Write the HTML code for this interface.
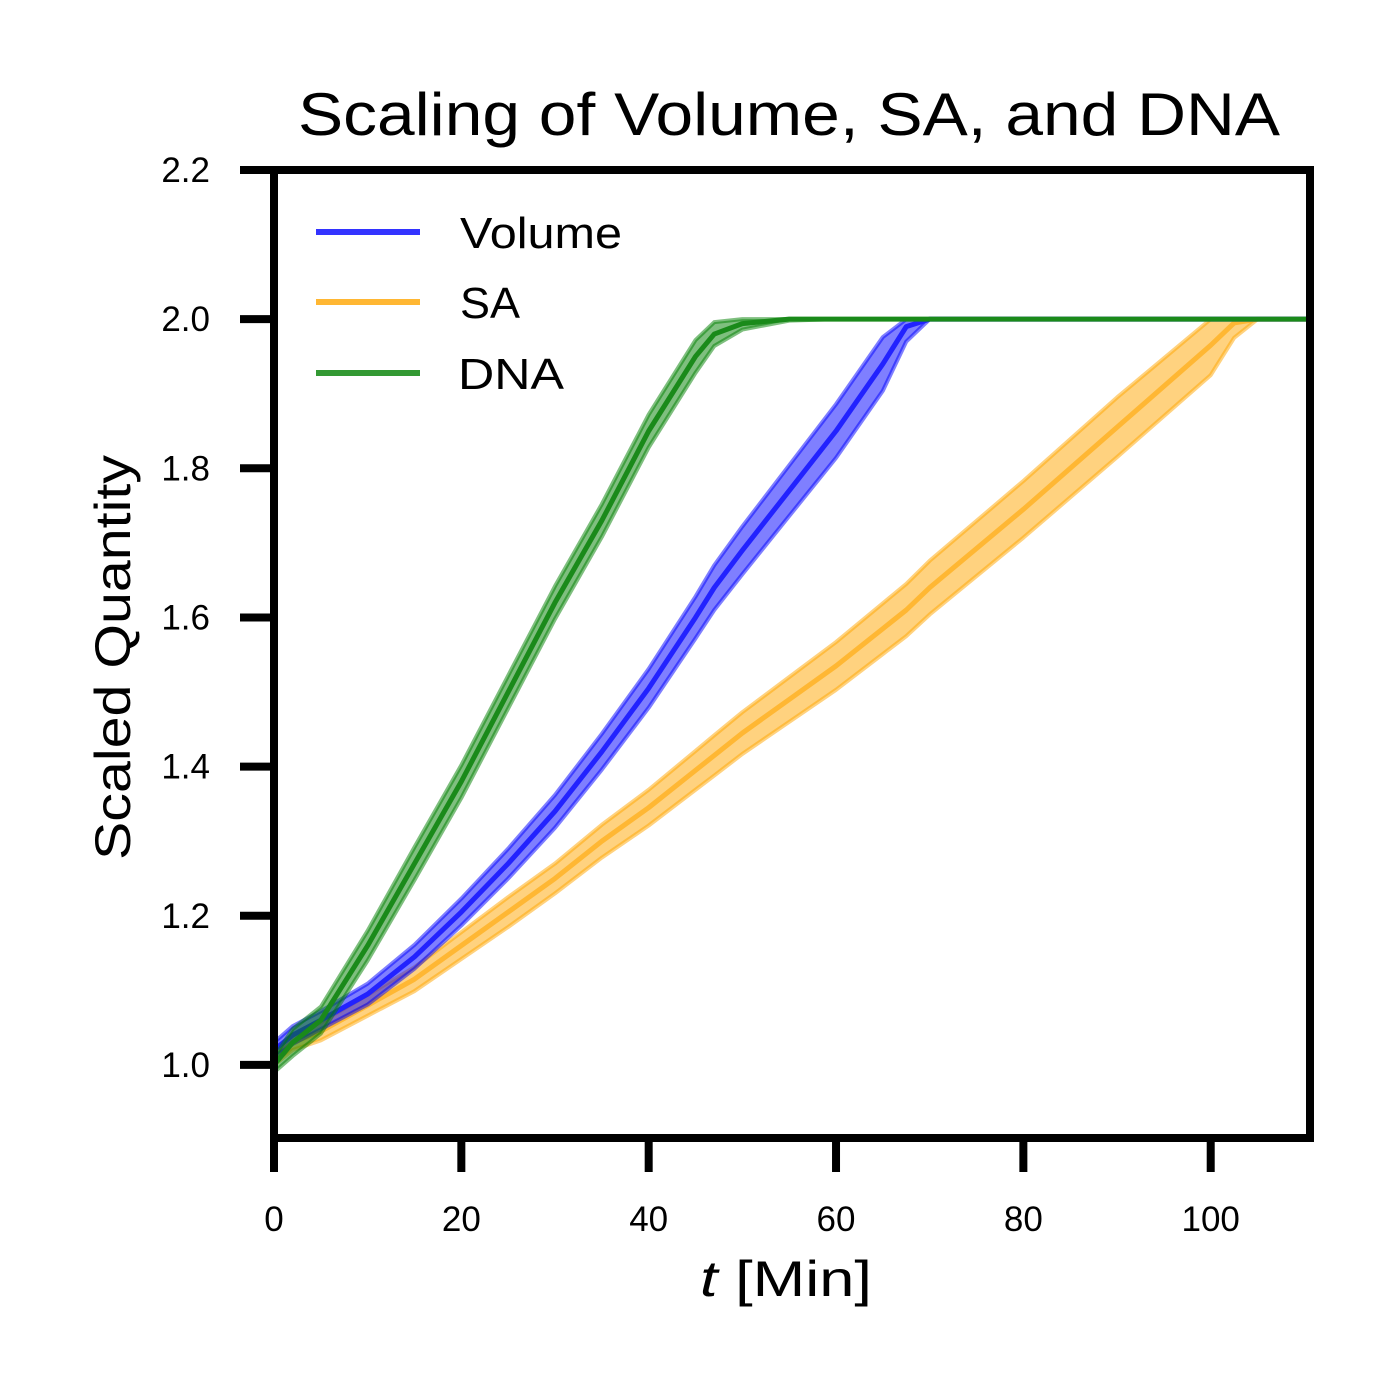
<!DOCTYPE html>
<html><head><meta charset="utf-8">
<style>
html,body{margin:0;padding:0;background:#fff;}
svg{display:block;font-family:"Liberation Sans","DejaVu Sans",sans-serif;}
</style></head>
<body>
<svg id="chart" width="1400" height="1400" viewBox="0 0 1400 1400">
  <text x="298" y="135" font-size="60" textLength="982" lengthAdjust="spacingAndGlyphs">Scaling of Volume, SA, and DNA</text>
  <g id="plot"></g>
  <g id="axes"></g>
  <text x="700" y="1296" font-size="50" textLength="172" lengthAdjust="spacingAndGlyphs"><tspan font-style="italic">t</tspan> [Min]</text>
  <text transform="translate(130,860) rotate(-90)" font-size="50" textLength="405" lengthAdjust="spacingAndGlyphs">Scaled Quantity</text>
  <g>
    <line x1="316" y1="232" x2="420" y2="232" stroke="#3333ff" stroke-width="6"/>
    <text x="460" y="248" font-size="44" textLength="162" lengthAdjust="spacingAndGlyphs">Volume</text>
    <line x1="316" y1="302" x2="420" y2="302" stroke="#ffb733" stroke-width="6"/>
    <text x="460" y="318" font-size="44" textLength="60" lengthAdjust="spacingAndGlyphs">SA</text>
    <line x1="316" y1="373" x2="420" y2="373" stroke="#339933" stroke-width="6"/>
    <text x="458" y="389" font-size="44" textLength="106" lengthAdjust="spacingAndGlyphs">DNA</text>
  </g>
</svg>
<script>
const tVals = [0,2,5,10,15,20,25,30,35,40,45,47,50,55,60,65,67.5,70,80,90,100,102.5,105,110.6];
const volVals = [1.02,1.04,1.06,1.095,1.145,1.205,1.27,1.34,1.42,1.505,1.60,1.64,1.69,1.77,1.85,1.94,1.99,2.0,2.0,2.0,2.0,2.0,2.0,2.0];
const saVals = [1.01,1.03,1.045,1.08,1.115,1.16,1.205,1.25,1.30,1.345,1.395,1.415,1.445,1.49,1.535,1.585,1.61,1.64,1.745,1.855,1.965,1.995,2.0,2.0];
const dnaVals = [1.0,1.03,1.06,1.16,1.27,1.38,1.50,1.62,1.73,1.85,1.95,1.98,1.994,2.0,2.0,2.0,2.0,2.0,2.0,2.0,2.0,2.0,2.0,2.0];
const volBand = [0.01,0.012,0.012,0.014,0.016,0.018,0.02,0.022,0.024,0.026,0.028,0.03,0.032,0.034,0.036,0.036,0.02,0,0,0,0,0,0,0];
const saBand = [0.01,0.01,0.012,0.014,0.016,0.018,0.02,0.02,0.022,0.024,0.026,0.027,0.028,0.03,0.032,0.034,0.035,0.036,0.038,0.04,0.04,0.02,0,0];
const dnaBand = [0.01,0.018,0.018,0.02,0.022,0.022,0.022,0.022,0.022,0.022,0.022,0.016,0.008,0.002,0,0,0,0,0,0,0,0,0,0];
const xTicks = [0,20,40,60,80,100];
const yTicks = [1.0,1.2,1.4,1.6,1.8,2.0,2.2];

const X0=274, X1=1310, Y0=1138, Y1=170;
const xMin=0, xMax=110.6, yMin=0.902, yMax=2.2;
const sx = v => X0 + (v - xMin) / (xMax - xMin) * (X1 - X0);
const sy = v => Y0 - (v - yMin) / (yMax - yMin) * (Y0 - Y1);
const NS = "http://www.w3.org/2000/svg";
const plot = document.getElementById('plot');
const axes = document.getElementById('axes');

function drawSeries(vals, band, fill, stroke, name) {
  const up = tVals.map((t,i)=>sx(t)+','+sy(Math.min(2.0, vals[i]+band[i])));
  const dn = tVals.map((t,i)=>sx(t)+','+sy(vals[i]-band[i])).reverse();
  const poly = document.createElementNS(NS,'polygon');
  poly.setAttribute('points', up.concat(dn).join(' '));
  poly.setAttribute('fill', fill);
  poly.setAttribute('fill-opacity', '0.5');
  poly.setAttribute('stroke', fill);
  poly.setAttribute('stroke-opacity', '0.5');
  poly.setAttribute('stroke-width', '4');
  poly.setAttribute('stroke-linejoin', 'round');
  
  
  plot.appendChild(poly);
  const line = document.createElementNS(NS,'polyline');
  line.setAttribute('points', tVals.map((t,i)=>sx(t)+','+sy(vals[i])).join(' '));
  line.setAttribute('fill', 'none');
  line.setAttribute('stroke', stroke);
  line.setAttribute('stroke-width', '5');
  line.setAttribute('stroke-linejoin', 'round');
  
  
  plot.appendChild(line);
}
drawSeries(saVals, saBand, '#ffa500', '#ffb733', 'sa');
drawSeries(volVals, volBand, '#0000ff', '#2222ff', 'volume');
drawSeries(dnaVals, dnaBand, '#008000', '#1a8a1a', 'dna');

const frame = document.createElementNS(NS,'rect');
frame.setAttribute('x', X0); frame.setAttribute('y', Y1);
frame.setAttribute('width', X1-X0); frame.setAttribute('height', Y0-Y1);
frame.setAttribute('fill','none'); frame.setAttribute('stroke','#000'); frame.setAttribute('stroke-width','8');


axes.appendChild(frame);

xTicks.forEach(v=>{
  const l = document.createElementNS(NS,'line');
  l.setAttribute('x1', sx(v)); l.setAttribute('x2', sx(v));
  l.setAttribute('y1', Y0); l.setAttribute('y2', Y0+34);
  l.setAttribute('stroke','#000'); l.setAttribute('stroke-width','8');
  
  
  axes.appendChild(l);
  const t = document.createElementNS(NS,'text');
  t.setAttribute('x', sx(v)); t.setAttribute('y', 1231);
  t.setAttribute('font-size','35'); t.setAttribute('text-anchor','middle');
  t.textContent = v;
  
  
  axes.appendChild(t);
});
yTicks.forEach(v=>{
  const l = document.createElementNS(NS,'line');
  l.setAttribute('x1', X0-34); l.setAttribute('x2', X0);
  l.setAttribute('y1', sy(v)); l.setAttribute('y2', sy(v));
  l.setAttribute('stroke','#000'); l.setAttribute('stroke-width','8');
  
  
  axes.appendChild(l);
  const t = document.createElementNS(NS,'text');
  t.setAttribute('x', 210); t.setAttribute('y', sy(v)+12);
  t.setAttribute('font-size','35'); t.setAttribute('text-anchor','end');
  t.textContent = v.toFixed(1);
  
  
  axes.appendChild(t);
});
</script>
</body></html>
